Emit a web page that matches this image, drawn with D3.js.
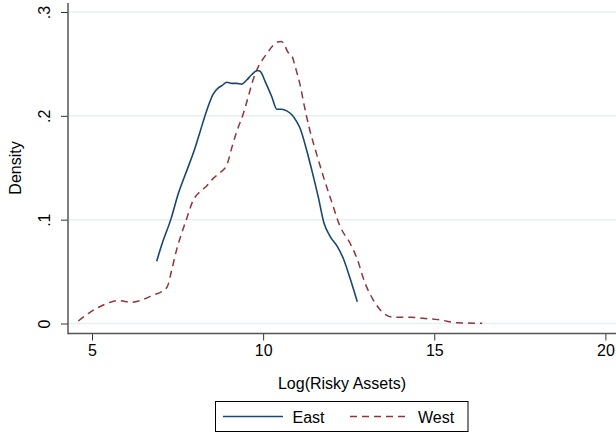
<!DOCTYPE html>
<html>
<head>
<meta charset="utf-8">
<script src="https://cdn.jsdelivr.net/npm/d3@7/dist/d3.min.js"></script>
<style>
  html, body { margin: 0; padding: 0; background: #fff; }
  svg { display: block; font-family: "Liberation Sans", Arial, Helvetica, sans-serif; }
</style>
</head>
<body>
<svg id="chart" width="616" height="437"></svg>
<script>
// Kernel density estimates of log risky assets, by region
const eastX = [6.89, 7.04, 7.31, 7.52, 7.72, 8.01, 8.16, 8.35, 8.54, 8.69, 8.79, 8.94, 9.08, 9.23, 9.37,
  9.52, 9.67, 9.83, 9.91, 10.06, 10.25, 10.40, 10.54, 10.69, 10.84, 10.98, 11.08, 11.23, 11.42, 11.61,
  11.78, 11.96, 12.17, 12.34, 12.54, 12.75];
const eastY = [0.060, 0.076, 0.101, 0.125, 0.143, 0.169, 0.185, 0.205, 0.221, 0.227, 0.229, 0.2324, 0.2313, 0.2313, 0.2305,
  0.2345, 0.2398, 0.2436, 0.2430, 0.2330, 0.2186, 0.2064, 0.2064, 0.2048, 0.2010, 0.1945, 0.188, 0.172, 0.148, 0.122,
  0.0965, 0.0837, 0.074, 0.0628, 0.0435, 0.021];

const westX = [4.60, 4.94, 5.33, 5.77, 6.16, 6.45, 6.79, 7.04, 7.20, 7.33, 7.47, 7.62, 7.77, 7.96, 8.16,
  8.35, 8.55, 8.74, 8.94, 9.08, 9.23, 9.42, 9.57, 9.70, 9.84, 9.98, 10.11, 10.27, 10.42, 10.53,
  10.64, 10.71, 10.84, 10.94, 11.08, 11.20, 11.35, 11.57, 11.76, 12.00, 12.25, 12.54, 12.74, 12.98,
  13.22, 13.47, 13.81, 14.29, 14.68, 15.17, 15.66, 16.40];
const westY = [0.0024, 0.0108, 0.0178, 0.022, 0.0204, 0.0226, 0.0275, 0.0307, 0.0355, 0.0516, 0.0708, 0.0869, 0.1014, 0.119, 0.127,
  0.1325, 0.140, 0.1453, 0.1527, 0.1688, 0.185, 0.202, 0.219, 0.234, 0.246, 0.254, 0.260, 0.267, 0.2712, 0.2716,
  0.2674, 0.262, 0.2578, 0.2470, 0.2298, 0.210, 0.188, 0.1624, 0.1415, 0.1174, 0.0933, 0.0773, 0.0628, 0.0387,
  0.0226, 0.0114, 0.006, 0.006, 0.005, 0.0034, 0.0008, 0.0002];

const xTicks = [5, 10, 15, 20];
const yTicks = [0, 0.1, 0.2, 0.3];
const yTickLabels = ["0", ".1", ".2", ".3"];
const seriesNames = ["East", "West"];

const svg = d3.select("#chart");
const plotLeft = 68, plotRight = 616, plotTop = 3, plotBottom = 333.5;

const x = d3.scaleLinear().domain([5, 20]).range([92, 605.4]);
const y = d3.scaleLinear().domain([0, 0.3]).range([323.5, 12]);

const navy = "#1a476f", maroon = "#90353b", ink = "#000";

// horizontal grid lines
svg.append("g")
  .selectAll("line")
  .data(yTicks)
  .join("line")
  .attr("x1", plotLeft).attr("x2", plotRight)
  .attr("y1", d => y(d)).attr("y2", d => y(d))
  .attr("stroke", "#e8eff2").attr("stroke-width", 1.5);

// y axis
const yAxis = svg.append("g")
  .attr("transform", `translate(${plotLeft},0)`)
  .call(d3.axisLeft(y).tickValues(yTicks).tickSize(7).tickPadding(0).tickFormat((d, i) => yTickLabels[i]));
yAxis.select(".domain").remove();
yAxis.selectAll(".tick line").attr("stroke", "#333").attr("stroke-width", 1);
yAxis.selectAll(".tick text")
  .attr("font-size", 16).attr("fill", ink)
  .attr("text-anchor", "middle")
  .attr("x", null).attr("dy", null)
  .attr("transform", "translate(-18,0) rotate(-90)");

// x axis
const xAxis = svg.append("g")
  .attr("transform", `translate(0,${plotBottom})`)
  .call(d3.axisBottom(x).tickValues(xTicks).tickSize(7).tickPadding(0).tickFormat(d3.format("d")));
xAxis.select(".domain").remove();
xAxis.selectAll(".tick line").attr("stroke", "#333").attr("stroke-width", 1);
xAxis.selectAll(".tick text")
  .attr("font-size", 16).attr("fill", ink)
  .attr("y", 22).attr("dy", null);

// axis lines
svg.append("line").attr("x1", plotLeft).attr("x2", plotLeft).attr("y1", plotTop).attr("y2", plotBottom + 0.75)
  .attr("stroke", "#555").attr("stroke-width", 1.5);
svg.append("line").attr("x1", plotLeft).attr("x2", plotRight).attr("y1", plotBottom).attr("y2", plotBottom)
  .attr("stroke", "#555").attr("stroke-width", 1.5);

// axis titles
svg.append("text")
  .attr("transform", "translate(20.5,168) rotate(-90)")
  .attr("text-anchor", "middle").attr("font-size", 16).attr("fill", ink)
  .text("Density");
svg.append("text")
  .attr("x", 342).attr("y", 389)
  .attr("text-anchor", "middle").attr("font-size", 16).attr("fill", ink)
  .text("Log(Risky Assets)");

// density curves
const line = d3.line().x(d => x(d[0])).y(d => y(d[1])).curve(d3.curveMonotoneX);
const eastData = d3.zip(eastX, eastY);
const westData = d3.zip(westX, westY);

svg.append("path").datum(westData)
  .attr("d", line).attr("fill", "none")
  .attr("stroke", maroon).attr("stroke-width", 1.5).attr("stroke-dasharray", "7,5");
svg.append("path").datum(eastData)
  .attr("d", line).attr("fill", "none")
  .attr("stroke", navy).attr("stroke-width", 1.6);

// legend
const lg = svg.append("g");
lg.append("rect").attr("x", 215.5).attr("y", 401.5).attr("width", 252.5).attr("height", 30)
  .attr("fill", "#fff").attr("stroke", "#000").attr("stroke-width", 1);
const legendItems = [
  { name: seriesNames[0], color: navy, dash: null, x0: 223, tx: 292.5 },
  { name: seriesNames[1], color: maroon, dash: "7,5", x0: 350, tx: 418 }
];
legendItems.forEach(it => {
  lg.append("line").attr("x1", it.x0).attr("x2", it.x0 + 60).attr("y1", 416.5).attr("y2", 416.5)
    .attr("stroke", it.color).attr("stroke-width", 1.5)
    .attr("stroke-dasharray", it.dash);
  lg.append("text").attr("x", it.tx).attr("y", 422.5)
    .attr("font-size", 16).attr("fill", ink).text(it.name);
});
</script>
</body>
</html>
